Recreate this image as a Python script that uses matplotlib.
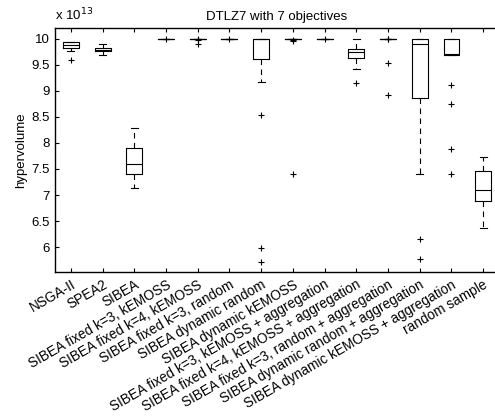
import matplotlib
matplotlib.use("Agg")
import matplotlib.pyplot as plt

# values in units of 1e13
labels = [
    "NSGA-II",
    "SPEA2",
    "SIBEA",
    "SIBEA fixed k=3, kEMOSS",
    "SIBEA fixed k=4, kEMOSS",
    "SIBEA fixed k=3, random",
    "SIBEA dynamic random",
    "SIBEA dynamic kEMOSS",
    "SIBEA fixed k=3, kEMOSS + aggregation",
    "SIBEA fixed k=4, kEMOSS + aggregation",
    "SIBEA fixed k=3, random + aggregation",
    "SIBEA dynamic random + aggregation",
    "SIBEA dynamic kEMOSS + aggregation",
    "random sample",
]
whis_hi = [9.94, 9.90, 8.28, 10.0, 10.0, 10.0, 10.0, 10.0, 10.0, 9.99, 10.0, 10.0, 10.0, 7.73]
q3 = [9.94, 9.83, 7.90, 10.0, 10.0, 10.0, 10.0, 10.0, 10.0, 9.81, 10.0, 9.99, 9.99, 7.46]
med = [9.88, 9.79, 7.59, 10.0, 10.0, 10.0, 10.0, 10.0, 10.0, 9.75, 10.0, 9.90, 9.71, 7.09]
q1 = [9.83, 9.76, 7.40, 10.0, 10.0, 10.0, 9.61, 10.0, 10.0, 9.63, 10.0, 8.86, 9.70, 6.88]
whis_lo = [9.77, 9.70, 7.14, 10.0, 10.0, 10.0, 9.18, 10.0, 10.0, 9.43, 10.0, 7.40, 9.70, 6.37]
outliers = [
    [9.60],
    [],
    [],
    [10.0],
    [10.0, 9.97, 9.91],
    [10.0],
    [8.54, 5.98, 5.71],
    [9.98, 9.96, 7.40],
    [10.0],
    [9.15],
    [10.0, 9.99, 9.54, 8.92],
    [6.16, 5.77],
    [9.12, 8.75, 7.88, 7.41],
    [],
]
yticks = [6, 6.5, 7, 7.5, 8, 8.5, 9, 9.5, 10]

plt.rcParams['font.family'] = ['Liberation Sans', 'DejaVu Sans']
plt.rcParams['font.size'] = 9.5

fig = plt.figure(figsize=(4.95, 4.18), dpi=100)
ax = fig.add_axes([55 / 495, 1 - 272 / 418, 444 / 495, 244 / 418])

stats = []
for i in range(len(labels)):
    stats.append(dict(label=labels[i], whishi=whis_hi[i], q3=q3[i], med=med[i],
                      q1=q1[i], whislo=whis_lo[i], fliers=outliers[i]))

lw = 0.8
ax.bxp(stats, positions=list(range(1, len(labels) + 1)), widths=0.5, capwidths=0.22,
       boxprops=dict(color='k', lw=lw),
       whiskerprops=dict(color='k', lw=lw, linestyle=(0, (5, 4))),
       capprops=dict(color='k', lw=lw),
       medianprops=dict(color='k', lw=lw),
       flierprops=dict(marker='+', markeredgecolor='k', markersize=5, markeredgewidth=0.8))

ax.set_xlim(0.5, 14.5)
ax.set_ylim(5.52, 10.21)
ax.set_yticks(yticks)
ax.set_yticklabels([f"{t:g}" for t in yticks])
ax.tick_params(direction='in', top=True, right=True, length=3, width=0.8, pad=4)
ax.set_xticklabels(labels, rotation=30, ha='right', va='top', rotation_mode='anchor',
                   fontsize=9.8)
for s in ax.spines.values():
    s.set_linewidth(1.0)

ax.set_ylabel('hypervolume', labelpad=3)
ax.set_title('DTLZ7 with 7 objectives', fontsize=9.5, pad=6)
fig.text(55 / 495, 1 - 20 / 418, r'x 10$^{13}$', fontsize=9.5, ha='left', va='baseline')

fig.savefig('out.png', dpi=100)
